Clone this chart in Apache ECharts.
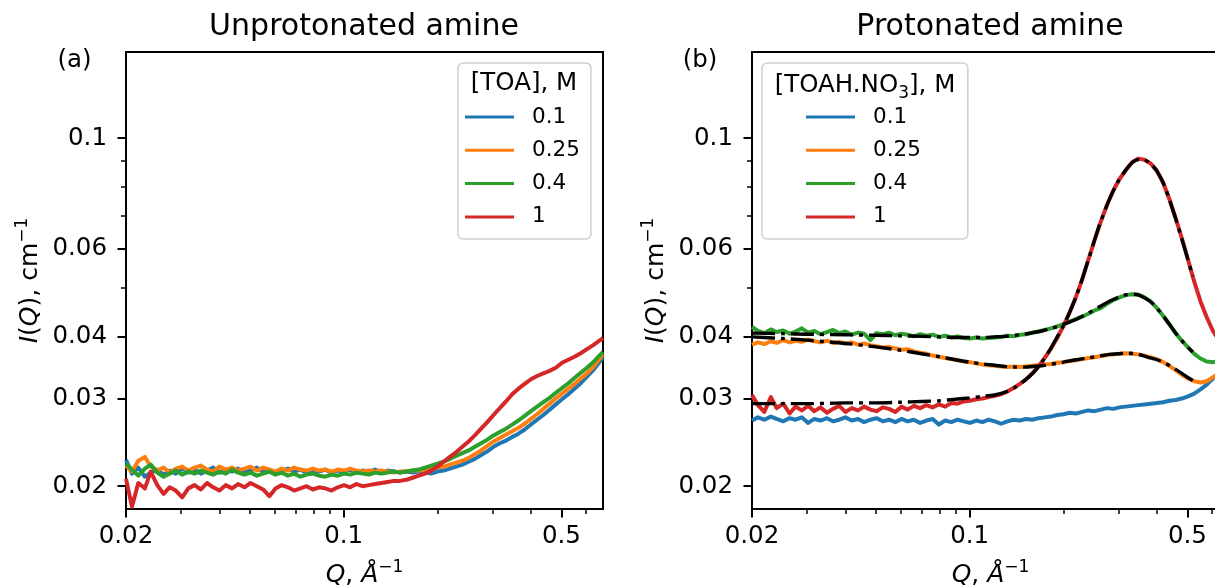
<!DOCTYPE html>
<html>
<head>
<meta charset="utf-8">
<script src="https://cdn.jsdelivr.net/npm/echarts@6/dist/echarts.min.js"></script>
<style>
html, body { margin: 0; padding: 0; background: #ffffff; }
#chart { width: 1215px; height: 588px; }
</style>
</head>
<body>
<div id="chart"></div>
<script>
// Scattering vector Q (1/Å) shared by all measured curves
const q = [
  0.0200, 0.0209, 0.0219, 0.0230, 0.0240, 0.0252, 0.0264, 0.0276, 0.0289, 0.0303,
  0.0317, 0.0332, 0.0348, 0.0364, 0.0381, 0.0399, 0.0418, 0.0438, 0.0458, 0.0480,
  0.0502, 0.0526, 0.0551, 0.0577, 0.0604, 0.0632, 0.0662, 0.0693, 0.0726, 0.0760,
  0.0796, 0.0834, 0.0873, 0.0914, 0.0957, 0.1002, 0.1049, 0.1099, 0.1150, 0.1205,
  0.1262, 0.1321, 0.1383, 0.1449, 0.1517, 0.1588, 0.1663, 0.1742, 0.1824, 0.1910,
  0.2000, 0.2094, 0.2193, 0.2296, 0.2404, 0.2518, 0.2636, 0.2761, 0.2891, 0.3027,
  0.3170, 0.3319, 0.3475, 0.3639, 0.3811, 0.3990, 0.4178, 0.4375, 0.4581, 0.4797,
  0.5024, 0.5260, 0.5508, 0.5768, 0.6040, 0.6325, 0.6623, 0.6800
];

// Q grid of the model fits
const fitQ = [
  0.02, 0.025, 0.03, 0.04, 0.05, 0.06, 0.07, 0.08, 0.09, 0.10,
  0.11, 0.12, 0.13, 0.14, 0.15, 0.16, 0.17, 0.18, 0.19, 0.20,
  0.22, 0.24, 0.26, 0.28, 0.30, 0.32, 0.34, 0.36, 0.38, 0.40,
  0.42, 0.44, 0.46, 0.48, 0.50, 0.52
];

// Concentrations, M
const concentrations = ['0.1', '0.25', '0.4', '1'];
const colors = ['#1f77b4', '#ff7f0e', '#2ca02c', '#d62728'];

// I(Q), cm^-1 : unprotonated amine (TOA)
const toa_01 = [
  0.0226, 0.0212, 0.0218, 0.0209, 0.0213, 0.0216, 0.0211, 0.0215, 0.0212, 0.0217,
  0.0213, 0.0216, 0.0212, 0.0215, 0.0218, 0.0213, 0.0216, 0.0214, 0.0217, 0.0213,
  0.0215, 0.0218, 0.0214, 0.0216, 0.0213, 0.0215, 0.0217, 0.0214, 0.0216, 0.0213,
  0.0215, 0.0214, 0.0216, 0.0213, 0.0215, 0.0214, 0.0216, 0.0213, 0.0215, 0.0214,
  0.0216, 0.0213, 0.0215, 0.0214, 0.0213, 0.0214, 0.0213, 0.0214, 0.0213, 0.0212,
  0.0214, 0.0215, 0.0217, 0.0219, 0.0221, 0.0224, 0.0227, 0.0231, 0.0235, 0.0240,
  0.0244, 0.0247, 0.0251, 0.0255, 0.0260, 0.0266, 0.0272, 0.0278, 0.0285, 0.0292,
  0.0299, 0.0306, 0.0314, 0.0322, 0.0332, 0.0342, 0.0355, 0.0363
];
const toa_025 = [
  0.0220, 0.0214, 0.0225, 0.0229, 0.0219, 0.0215, 0.0218, 0.0213, 0.0217, 0.0219,
  0.0215, 0.0218, 0.0220, 0.0216, 0.0214, 0.0219, 0.0216, 0.0218, 0.0215, 0.0217,
  0.0219, 0.0215, 0.0218, 0.0216, 0.0214, 0.0217, 0.0215, 0.0218, 0.0216, 0.0215,
  0.0217, 0.0215, 0.0216, 0.0214, 0.0216, 0.0215, 0.0217, 0.0215, 0.0214, 0.0215,
  0.0214, 0.0215, 0.0214, 0.0213, 0.0214, 0.0214, 0.0215, 0.0215, 0.0216, 0.0217,
  0.0218, 0.0219, 0.0221, 0.0223, 0.0225, 0.0228, 0.0232, 0.0236, 0.0241, 0.0246,
  0.0250, 0.0254, 0.0258, 0.0262, 0.0267, 0.0273, 0.0279, 0.0286, 0.0293, 0.0300,
  0.0307, 0.0314, 0.0321, 0.0329, 0.0337, 0.0347, 0.0360, 0.0368
];
const toa_04 = [
  0.0222, 0.0216, 0.0210, 0.0217, 0.0221, 0.0213, 0.0209, 0.0212, 0.0215, 0.0211,
  0.0214, 0.0212, 0.0215, 0.0213, 0.0211, 0.0214, 0.0212, 0.0216, 0.0213, 0.0211,
  0.0213, 0.0210, 0.0212, 0.0214, 0.0211, 0.0213, 0.0210, 0.0212, 0.0209, 0.0211,
  0.0212, 0.0210, 0.0209, 0.0211, 0.0210, 0.0212, 0.0211, 0.0213, 0.0212, 0.0211,
  0.0213, 0.0212, 0.0213, 0.0214, 0.0213, 0.0214, 0.0215, 0.0216, 0.0218, 0.0220,
  0.0222, 0.0224, 0.0227, 0.0230, 0.0233, 0.0236, 0.0240, 0.0244, 0.0248, 0.0253,
  0.0257, 0.0261, 0.0266, 0.0271, 0.0277, 0.0283, 0.0289, 0.0295, 0.0301, 0.0308,
  0.0315, 0.0322, 0.0330, 0.0338, 0.0346, 0.0355, 0.0366, 0.0372
];
const toa_1 = [
  0.0207, 0.0182, 0.0203, 0.0198, 0.0214, 0.0201, 0.0193, 0.0199, 0.0196, 0.0190,
  0.0198, 0.0201, 0.0197, 0.0203, 0.0199, 0.0196, 0.0201, 0.0198, 0.0202, 0.0199,
  0.0203, 0.0200, 0.0197, 0.0191, 0.0198, 0.0201, 0.0199, 0.0196, 0.0198, 0.0200,
  0.0197, 0.0199, 0.0198, 0.0196, 0.0199, 0.0201, 0.0199, 0.0202, 0.0200, 0.0201,
  0.0202, 0.0203, 0.0204, 0.0205, 0.0205, 0.0206, 0.0208, 0.0210, 0.0212, 0.0215,
  0.0219, 0.0224, 0.0229, 0.0234, 0.0240, 0.0246, 0.0253, 0.0261, 0.0269, 0.0278,
  0.0287, 0.0296, 0.0306, 0.0314, 0.0321, 0.0328, 0.0333, 0.0337, 0.0341, 0.0346,
  0.0354, 0.0359, 0.0364, 0.0370, 0.0377, 0.0384, 0.0392, 0.0397
];

// I(Q), cm^-1 : protonated amine (TOAH.NO3)
const toah_01 = [
  0.0271, 0.0275, 0.0272, 0.0276, 0.0273, 0.0270, 0.0274, 0.0272, 0.0275, 0.0268,
  0.0273, 0.0271, 0.0274, 0.0270, 0.0272, 0.0275, 0.0271, 0.0273, 0.0269, 0.0272,
  0.0274, 0.0270, 0.0272, 0.0269, 0.0273, 0.0270, 0.0272, 0.0268, 0.0271, 0.0273,
  0.0266, 0.0271, 0.0269, 0.0272, 0.0270, 0.0268, 0.0271, 0.0269, 0.0272, 0.0270,
  0.0267, 0.0270, 0.0272, 0.0271, 0.0273, 0.0272, 0.0274, 0.0275, 0.0276, 0.0278,
  0.0279, 0.0281, 0.0280, 0.0282, 0.0284, 0.0283, 0.0285, 0.0287, 0.0286, 0.0288,
  0.0289, 0.0290, 0.0291, 0.0292, 0.0293, 0.0294, 0.0295, 0.0297, 0.0298, 0.0300,
  0.0303, 0.0307, 0.0313, 0.0320, 0.0329, 0.0338, 0.0348, 0.0354
];
const toah_025 = [
  0.0385, 0.0389, 0.0386, 0.0391, 0.0388, 0.0393, 0.0389, 0.0392, 0.0390, 0.0394,
  0.0391, 0.0389, 0.0392, 0.0388, 0.0390, 0.0387, 0.0389, 0.0385, 0.0387, 0.0384,
  0.0382, 0.0380, 0.0381, 0.0378, 0.0376, 0.0377, 0.0373, 0.0371, 0.0369, 0.0366,
  0.0364, 0.0362, 0.0360, 0.0358, 0.0356, 0.0355, 0.0353, 0.0351, 0.0350, 0.0349,
  0.0348, 0.0347, 0.0348, 0.0347, 0.0348, 0.0349, 0.0350, 0.0351, 0.0352, 0.0354,
  0.0355, 0.0357, 0.0358, 0.0360, 0.0362, 0.0363, 0.0365, 0.0367, 0.0368, 0.0369,
  0.0370, 0.0369, 0.0368, 0.0366, 0.0363, 0.0360, 0.0355, 0.0349, 0.0342, 0.0335,
  0.0329, 0.0325, 0.0323, 0.0325, 0.0331, 0.0338, 0.0347, 0.0353
];
const toah_04 = [
  0.0418, 0.0410, 0.0406, 0.0413, 0.0408, 0.0411, 0.0405, 0.0409, 0.0415, 0.0407,
  0.0410, 0.0404, 0.0408, 0.0412, 0.0406, 0.0409, 0.0403, 0.0407, 0.0405, 0.0393,
  0.0406, 0.0404, 0.0407, 0.0402, 0.0405, 0.0403, 0.0400, 0.0404, 0.0401, 0.0403,
  0.0399, 0.0401, 0.0398, 0.0400, 0.0397, 0.0396, 0.0398, 0.0396, 0.0397, 0.0398,
  0.0399, 0.0401, 0.0400, 0.0403, 0.0404, 0.0407, 0.0409, 0.0412, 0.0415, 0.0419,
  0.0423, 0.0428, 0.0433, 0.0438, 0.0444, 0.0451, 0.0456, 0.0465, 0.0473, 0.0479,
  0.0484, 0.0486, 0.0485, 0.0479, 0.0470, 0.0456, 0.0440, 0.0423, 0.0406, 0.0392,
  0.0380, 0.0369, 0.0361, 0.0356, 0.0355, 0.0357, 0.0361, 0.0365
];
const toah_1 = [
  0.0305, 0.0291, 0.0282, 0.0302, 0.0287, 0.0293, 0.0280, 0.0289, 0.0284, 0.0290,
  0.0283, 0.0288, 0.0281, 0.0286, 0.0290, 0.0282, 0.0287, 0.0284, 0.0289, 0.0285,
  0.0283, 0.0288, 0.0286, 0.0282, 0.0289, 0.0285, 0.0290, 0.0287, 0.0291, 0.0288,
  0.0292, 0.0289, 0.0294, 0.0293, 0.0296, 0.0297, 0.0299, 0.0300, 0.0302, 0.0304,
  0.0306, 0.0310, 0.0315, 0.0321, 0.0328, 0.0337, 0.0348, 0.0362, 0.0378, 0.0397,
  0.0420, 0.0447, 0.0480, 0.0520, 0.0570, 0.0625, 0.0680, 0.0735, 0.0785, 0.0828,
  0.0862, 0.0895, 0.0910, 0.0905, 0.0890, 0.0860, 0.0815, 0.0755, 0.0692, 0.0630,
  0.0570, 0.0515, 0.0470, 0.0437, 0.0410, 0.0392, 0.0380, 0.0374
];

// Model fits of the protonated-amine curves
const fit_025 = [
  0.0399, 0.0396, 0.0393, 0.0387, 0.0381, 0.0375, 0.0369, 0.0364, 0.0359, 0.0355,
  0.0352, 0.0350, 0.0348, 0.0347, 0.0347, 0.0348, 0.0349, 0.0351, 0.0353, 0.0355,
  0.0359, 0.0362, 0.0365, 0.0368, 0.0369, 0.0370, 0.0369, 0.0366, 0.0362, 0.0359,
  0.0354, 0.0349, 0.0343, 0.0337, 0.0331, 0.0326
];
const fit_04 = [
  0.0406, 0.0405, 0.0404, 0.0403, 0.0402, 0.0401, 0.0400, 0.0399, 0.0398, 0.0398,
  0.0398, 0.0399, 0.0400, 0.0402, 0.0404, 0.0407, 0.0410, 0.0414, 0.0418, 0.0423,
  0.0433, 0.0445, 0.0458, 0.0470, 0.0479, 0.0485, 0.0486, 0.0480, 0.0470, 0.0455,
  0.0438, 0.0421, 0.0405, 0.0392, 0.0381, 0.0372
];
const fit_1 = [
  0.0293, 0.0293, 0.0293, 0.0294, 0.0294, 0.0295, 0.0296, 0.0297, 0.0299, 0.0301,
  0.0303, 0.0305, 0.0309, 0.0316, 0.0326, 0.0338, 0.0354, 0.0374, 0.0397, 0.0420,
  0.0482, 0.0568, 0.0665, 0.0750, 0.0820, 0.0870, 0.0902, 0.0906, 0.0890, 0.0857,
  0.0808, 0.0745, 0.0685, 0.0627, 0.0575, 0.0528
];

// Axis ranges and ticks
const xMin = 0.02, xMax = 0.68;
const yMin = 0.018, yMax = 0.149;
const xTicks = [0.02, 0.1, 0.5];
const xTickLabels = ['0.02', '0.1', '0.5'];
const xMinorTicks = [0.03, 0.04, 0.05, 0.06, 0.07, 0.08, 0.09, 0.2, 0.3, 0.4, 0.6];
const yTicks = [0.02, 0.03, 0.04, 0.06, 0.1];
const yTickLabels = ['0.02', '0.03', '0.04', '0.06', '0.1'];
const yMinorTicks = [0.05, 0.07, 0.08, 0.09];

const FONT = 'DejaVu Sans';
const TICK_SIZE = 24.5;
const NAME_SIZE = 25;

function labelFor(values, labels) {
  return function (v) {
    let best = 0;
    for (let i = 1; i < values.length; i++) {
      if (Math.abs(Math.log(values[i] / v)) < Math.abs(Math.log(values[best] / v))) best = i;
    }
    return labels[best];
  };
}

const nameRich = {
  i: { fontFamily: FONT, fontSize: NAME_SIZE, fontStyle: 'italic', color: '#000', lineHeight: 32 },
  n: { fontFamily: FONT, fontSize: NAME_SIZE, color: '#000', lineHeight: 32 },
  s: { fontFamily: FONT, fontSize: 17, color: '#000', verticalAlign: 'top', lineHeight: 19 }
};

function xAxesFor(gridIndex) {
  return [
    {
      type: 'log', logBase: 10, gridIndex: gridIndex, min: xMin, max: xMax, position: 'bottom',
      axisLine: { show: false }, splitLine: { show: false },
      axisTick: { show: true, customValues: xTicks, length: 8.5, lineStyle: { color: '#000', width: 2 } },
      axisLabel: {
        show: true, customValues: xTicks, formatter: labelFor(xTicks, xTickLabels),
        margin: 15, color: '#000', fontSize: TICK_SIZE, fontFamily: FONT
      },
      name: '{i|Q}{n|, }{i|Å}{s|−1}', nameLocation: 'middle', nameGap: 50,
      nameTextStyle: { fontFamily: FONT, fontSize: NAME_SIZE, color: '#000', rich: nameRich }
    },
    {
      type: 'log', logBase: 10, gridIndex: gridIndex, min: xMin, max: xMax, position: 'bottom',
      axisLine: { show: false }, splitLine: { show: false }, axisLabel: { show: false },
      axisTick: { show: true, customValues: xMinorTicks, length: 5, lineStyle: { color: '#000', width: 1.5 } }
    }
  ];
}

function yAxesFor(gridIndex) {
  return [
    {
      type: 'log', logBase: 10, gridIndex: gridIndex, min: yMin, max: yMax, position: 'left',
      axisLine: { show: false }, splitLine: { show: false },
      axisTick: { show: true, customValues: yTicks, length: 8.5, lineStyle: { color: '#000', width: 2 } },
      axisLabel: {
        show: true, customValues: yTicks, formatter: labelFor(yTicks, yTickLabels),
        margin: 19, color: '#000', fontSize: TICK_SIZE, fontFamily: FONT
      },
      name: '{i|I}{n|(}{i|Q}{n|), cm}{s|−1}', nameLocation: 'middle', nameRotate: 90, nameGap: 80,
      nameTextStyle: { fontFamily: FONT, fontSize: NAME_SIZE, color: '#000', rich: nameRich }
    },
    {
      type: 'log', logBase: 10, gridIndex: gridIndex, min: yMin, max: yMax, position: 'left',
      axisLine: { show: false }, splitLine: { show: false }, axisLabel: { show: false },
      axisTick: { show: true, customValues: yMinorTicks, length: 5, lineStyle: { color: '#000', width: 1.5 } }
    }
  ];
}

function pairs(xs, ys) {
  return xs.map(function (x, i) { return [x, ys[i]]; });
}

function dataLine(name, ys, color, axisIndex) {
  return {
    type: 'line', name: name, xAxisIndex: axisIndex, yAxisIndex: axisIndex,
    data: pairs(q, ys), showSymbol: false, symbol: 'none', clip: true,
    itemStyle: { color: color },
    lineStyle: { color: color, width: 4, join: 'round' },
    emphasis: { disabled: true }, z: 2
  };
}

function fitLine(name, ys) {
  return {
    type: 'line', name: name, xAxisIndex: 2, yAxisIndex: 2,
    data: pairs(fitQ, ys), showSymbol: false, symbol: 'none', smooth: 0.3, clip: true,
    itemStyle: { color: '#000' },
    lineStyle: { color: '#000', width: 3.4, type: [23, 6, 4, 6], cap: 'butt' },
    emphasis: { disabled: true }, z: 3
  };
}

const leftSets = [toa_01, toa_025, toa_04, toa_1];
const rightSets = [toah_01, toah_025, toah_04, toah_1];
const series = [];
leftSets.forEach(function (ys, i) { series.push(dataLine(concentrations[i], ys, colors[i], 0)); });
rightSets.forEach(function (ys, i) { series.push(dataLine(concentrations[i], ys, colors[i], 2)); });
series.push(fitLine('fit 0.25', fit_025));
series.push(fitLine('fit 0.4', fit_04));
series.push(fitLine('fit 1', fit_1));

function legendAt(left, padding) {
  return {
    data: concentrations, orient: 'vertical', left: left, top: 63, padding: padding,
    itemWidth: 49, itemHeight: 3, itemGap: 9.3, icon: 'rect', selectedMode: false,
    textStyle: { fontFamily: FONT, fontSize: 21.5, color: '#000', lineHeight: 24, padding: [0, 0, 0, 13] },
    backgroundColor: 'rgba(255,255,255,0.8)', borderColor: '#cfcfcf', borderWidth: 1.5, borderRadius: 5,
    z: 6
  };
}

function gridAt(left) {
  return {
    left: left, top: 52, width: 477, height: 457, outerBoundsMode: 'none', containLabel: false,
    show: true, borderColor: '#000', borderWidth: 2, backgroundColor: 'transparent'
  };
}

function plainText(x, y, text) {
  return {
    type: 'text', x: x, y: y, z: 100,
    style: { text: text, fontFamily: FONT, fontSize: 24.5, fill: '#000', align: 'center', verticalAlign: 'middle' }
  };
}

const chart = echarts.init(document.getElementById('chart'), null, { renderer: 'canvas' });
chart.setOption({
  animation: false,
  backgroundColor: '#ffffff',
  textStyle: { fontFamily: FONT },
  title: [
    { text: 'Unprotonated amine', left: 364, top: 12, textAlign: 'center', padding: 0,
      textStyle: { fontFamily: FONT, fontSize: 30, fontWeight: 'normal', color: '#000' } },
    { text: 'Protonated amine', left: 990, top: 12, textAlign: 'center', padding: 0,
      textStyle: { fontFamily: FONT, fontSize: 30, fontWeight: 'normal', color: '#000' } }
  ],
  grid: [gridAt(126), gridAt(752)],
  xAxis: xAxesFor(0).concat(xAxesFor(1)),
  yAxis: yAxesFor(0).concat(yAxesFor(1)),
  legend: [
    legendAt(458, [42, 11, 10, 7]),
    legendAt(762, [42, 47, 10, 44])
  ],
  graphic: [
    plainText(74.5, 61, '(a)'),
    plainText(700, 61, '(b)'),
    plainText(524, 84, '[TOA], M'),
    {
      type: 'text', x: 865, y: 86, z: 100,
      style: {
        text: '[TOAH.NO{sub|3}], M', fontFamily: FONT, fontSize: 24.5, fill: '#000',
        align: 'center', verticalAlign: 'middle', lineHeight: 32,
        rich: {
          sub: { fontFamily: FONT, fontSize: 17, fill: '#000', verticalAlign: 'bottom', lineHeight: 18 }
        }
      }
    }
  ],
  series: series
});
</script>
</body>
</html>
